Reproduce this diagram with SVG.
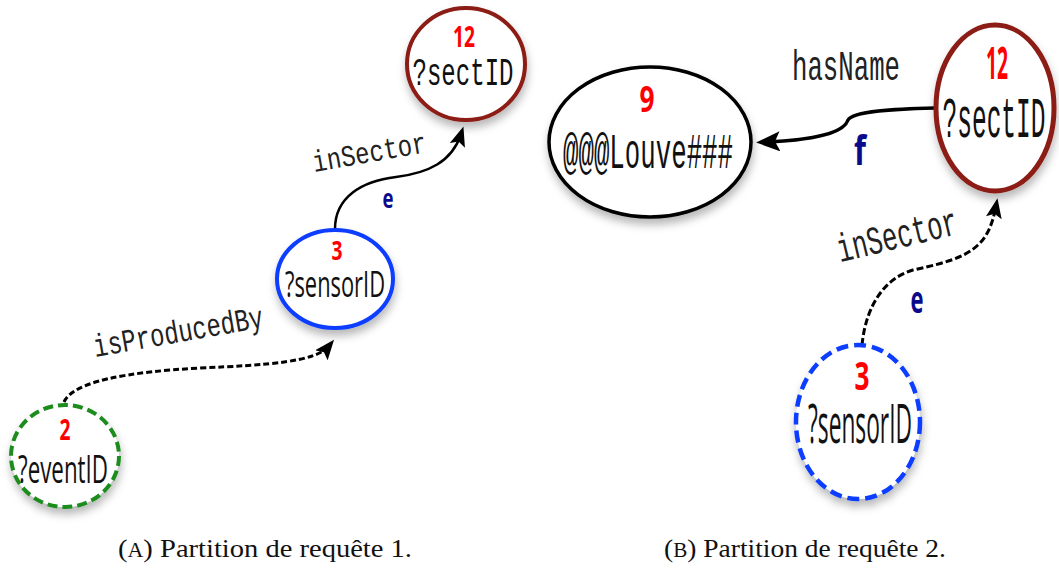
<svg xmlns="http://www.w3.org/2000/svg" width="1059" height="572" viewBox="0 0 1059 572">
<style>
.node{fill:#fff}
.sect{stroke:#8B1A12}
.blue{stroke:#0A3CFF}
.green{stroke:#1E8C1E}
.num{font-family:"Open Sans","DejaVu Sans",sans-serif;font-weight:bold;fill:#FF0000;text-anchor:middle}
.var{font-family:"Open Sans","DejaVu Sans",sans-serif;fill:#111;text-anchor:middle}
.mono{font-family:"Liberation Mono","DejaVu Sans Mono",monospace;fill:#111;text-anchor:middle}
.lbl{font-family:"Liberation Mono","DejaVu Sans Mono",monospace;fill:#222;text-anchor:middle}
.elet{font-family:"Open Sans","DejaVu Sans",sans-serif;font-weight:bold;fill:#0A0A8C;text-anchor:middle}
.edge{fill:none;stroke:#000}
.cap{font-family:"Liberation Serif","DejaVu Serif",serif;font-size:26px;fill:#111;text-anchor:middle}
</style>
<defs>
<filter id="sh" x="-30%" y="-30%" width="160%" height="170%">
<feDropShadow dx="1" dy="6" stdDeviation="4" flood-color="#000" flood-opacity="0.28"/>
</filter>
<marker id="ah" viewBox="0 0 20 16" refX="12" refY="8" markerWidth="20" markerHeight="16" markerUnits="userSpaceOnUse" orient="auto">
<path d="M0 0 L20 8 L0 16 L4 8 Z" fill="#000"/>
</marker>
<marker id="ahb" viewBox="0 0 24 20" refX="14" refY="10" markerWidth="24" markerHeight="20" markerUnits="userSpaceOnUse" orient="auto">
<path d="M0 0 L24 10 L0 20 L5 10 Z" fill="#000"/>
</marker>
</defs>

<g id="connectors">
<path class="edge" d="M335 229 C335 197 362 181 396 177 C428 173 452 162 461 134" stroke-width="2.5" marker-end="url(#ah)"/>
<path class="edge" d="M64 402 C74 381 128 372 200 368 C268 365 316 362 329 346" stroke-width="3" stroke-dasharray="6 3" marker-end="url(#ah)"/>
<path class="edge" d="M935 108 C895 109 853 111 848 120 C845 129 830 139 766 142" stroke-width="3.5" marker-end="url(#ahb)"/>
<path class="edge" d="M862 345 C866 305 885 278 913 270 C945 263 964 258 978 245 C988 236 993 222 996 206" stroke-width="3" stroke-dasharray="7 3" marker-end="url(#ah)"/>
</g>

<g id="edge-labels">
<text class="lbl" x="371" y="162" font-size="30" textLength="115" lengthAdjust="spacingAndGlyphs" transform="rotate(-10 371 162)">inSector</text>
<text class="elet" x="388" y="208" font-size="27" textLength="11" lengthAdjust="spacingAndGlyphs">e</text>
<text class="lbl" x="180" y="342" font-size="32" textLength="172" lengthAdjust="spacingAndGlyphs" transform="rotate(-10 180 342)">isProducedBy</text>
<text class="lbl" x="846" y="80" font-size="42" textLength="108" lengthAdjust="spacingAndGlyphs">hasName</text>
<text class="elet" x="860" y="165" font-size="42" textLength="12" lengthAdjust="spacingAndGlyphs">f</text>
<text class="lbl" x="900" y="248" font-size="40" textLength="123" lengthAdjust="spacingAndGlyphs" transform="rotate(-13.5 900 248)">inSector</text>
<text class="elet" x="917" y="313" font-size="38" textLength="13" lengthAdjust="spacingAndGlyphs">e</text>
</g>

<g id="n-sect-a">
<ellipse class="node sect" cx="466" cy="64" rx="59" ry="56" stroke-width="4" filter="url(#sh)"/>
<text class="num" x="464" y="47" font-size="29" textLength="22" lengthAdjust="spacingAndGlyphs">12</text>
<text class="mono" x="463" y="85" font-size="38" textLength="101" lengthAdjust="spacingAndGlyphs">?sectID</text>
</g>

<g id="n-sensor-a">
<ellipse class="node blue" cx="335" cy="279" rx="58" ry="49" stroke-width="4" filter="url(#sh)"/>
<text class="num" x="337" y="260" font-size="26" textLength="11" lengthAdjust="spacingAndGlyphs">3</text>
<text class="var" x="335" y="297" font-size="37" textLength="100" lengthAdjust="spacingAndGlyphs">?sensorID</text>
</g>

<g id="n-event">
<ellipse class="node green" cx="65" cy="456" rx="54" ry="51" stroke-width="4" stroke-dasharray="10 5" filter="url(#sh)"/>
<text class="num" x="65" y="440" font-size="29" textLength="11" lengthAdjust="spacingAndGlyphs">2</text>
<text class="var" x="63" y="483" font-size="38" textLength="90" lengthAdjust="spacingAndGlyphs">?eventID</text>
</g>

<g id="n-louve">
<ellipse class="node" cx="650" cy="142" rx="101" ry="75" stroke="#000" stroke-width="3.5" filter="url(#sh)"/>
<text class="num" x="647" y="112" font-size="36" textLength="15" lengthAdjust="spacingAndGlyphs">9</text>
<text class="mono" x="648" y="168" font-size="50" textLength="170" lengthAdjust="spacingAndGlyphs">@@@Louve###</text>
</g>

<g id="n-sect-b">
<ellipse class="node sect" cx="995" cy="108" rx="59" ry="83" stroke-width="5" filter="url(#sh)"/>
<text class="num" x="997" y="79" font-size="44" textLength="22" lengthAdjust="spacingAndGlyphs">12</text>
<text class="mono" x="994" y="137" font-size="58" textLength="103" lengthAdjust="spacingAndGlyphs">?sectID</text>
</g>

<g id="n-sensor-b">
<ellipse class="node blue" cx="858" cy="422" rx="62" ry="77" stroke-width="4.5" stroke-dasharray="12 6" filter="url(#sh)"/>
<text class="num" x="862" y="390" font-size="39" textLength="15" lengthAdjust="spacingAndGlyphs">3</text>
<text class="var" x="860" y="443" font-size="54" textLength="104" lengthAdjust="spacingAndGlyphs">?sensorID</text>
</g>

<g id="captions">
<text class="cap" x="265" y="557" textLength="294" lengthAdjust="spacingAndGlyphs">(<tspan font-size="20">A</tspan>) Partition de requête 1.</text>
<text class="cap" x="805" y="557" textLength="282" lengthAdjust="spacingAndGlyphs">(<tspan font-size="20">B</tspan>) Partition de requête 2.</text>
</g>
</svg>
